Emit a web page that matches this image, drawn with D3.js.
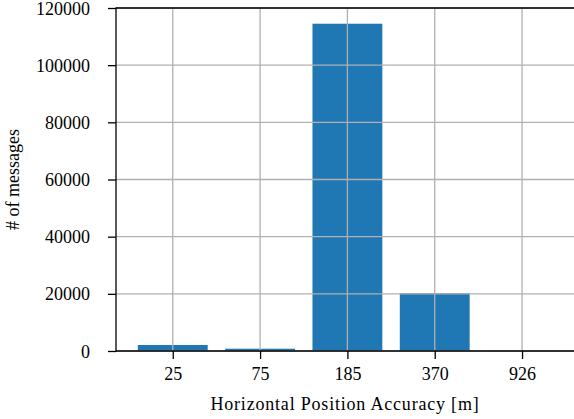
<!DOCTYPE html>
<html>
<head>
<meta charset="utf-8">
<script src="https://cdn.jsdelivr.net/npm/d3@7"></script>
<style>
  body { margin: 0; background: #fff; }
  svg text { font-family: 'Liberation Serif', serif; fill: #000; }
</style>
</head>
<body>
<div id="chart"></div>
<script>
// data
const categories = ["25", "75", "185", "370", "926"];
const counts = [2100, 800, 114500, 20200, 40];
const yTicks = [0, 20000, 40000, 60000, 80000, 100000, 120000];

const width = 574, height = 419;
const margin = { top: 8, right: 0, bottom: 68, left: 116 };
const fontSize = "18px";

const svg = d3.select("#chart")
    .append("svg")
    .attr("width", width)
    .attr("height", height);

// categorical positions like matplotlib: index -> pixel
const x = d3.scaleLinear()
    .domain([-0.65, 4.595])
    .range([margin.left, width - margin.right]);

const y = d3.scaleLinear()
    .domain([0, 120000])
    .range([height - margin.bottom, margin.top]);

const barW = x(0.4) - x(-0.4);

// bars
svg.selectAll(".bar")
    .data(counts)
    .enter()
    .append("rect")
    .attr("class", "bar")
    .attr("x", (d, i) => x(i) - barW / 2)
    .attr("y", d => y(d))
    .attr("width", barW)
    .attr("height", d => y(0) - y(d))
    .style("fill", "#1f77b4");

// grid on top of bars
const grid = svg.append("g");
grid.selectAll(".vgrid")
    .data(categories)
    .enter()
    .append("line")
    .attr("x1", (d, i) => x(i))
    .attr("x2", (d, i) => x(i))
    .attr("y1", y(0))
    .attr("y2", y(120000))
    .style("stroke", "#b0b0b0")
    .style("stroke-width", 1.3);
grid.selectAll(".hgrid")
    .data(yTicks)
    .enter()
    .append("line")
    .attr("x1", margin.left)
    .attr("x2", width)
    .attr("y1", d => y(d))
    .attr("y2", d => y(d))
    .style("stroke", "#b0b0b0")
    .style("stroke-width", 1.3);

// axes
const xAxis = svg.append("g")
    .attr("transform", `translate(0,${y(0)})`)
    .call(d3.axisBottom(x)
        .tickValues(d3.range(categories.length))
        .tickFormat(i => categories[i])
        .tickSize(8)
        .tickPadding(8));

const yAxis = svg.append("g")
    .attr("transform", `translate(${margin.left},0)`)
    .call(d3.axisLeft(y)
        .tickValues(yTicks)
        .tickFormat(d3.format("d"))
        .tickSize(8)
        .tickPadding(18));

[xAxis, yAxis].forEach(a => {
    a.attr("font-family", null).attr("font-size", null);
    a.select(".domain").remove();
    a.selectAll("line").style("stroke", "#000").style("stroke-width", 1.3);
    a.selectAll("text").style("font-size", fontSize);
});
yAxis.selectAll("text").attr("dy", "0.34em");

// spines: left, bottom, top
svg.append("line")
    .attr("x1", margin.left).attr("x2", margin.left)
    .attr("y1", y(0) + 0.6).attr("y2", y(120000) - 0.6)
    .style("stroke", "#000").style("stroke-width", 1.3);
svg.append("line")
    .attr("x1", margin.left).attr("x2", width)
    .attr("y1", y(0)).attr("y2", y(0))
    .style("stroke", "#000").style("stroke-width", 1.3);
svg.append("line")
    .attr("x1", margin.left).attr("x2", width)
    .attr("y1", y(120000)).attr("y2", y(120000))
    .style("stroke", "#000").style("stroke-width", 1.3);

// axis titles
svg.append("text")
    .attr("x", (margin.left + width) / 2)
    .attr("y", 410)
    .attr("text-anchor", "middle")
    .style("font-size", fontSize)
    .style("letter-spacing", "0.8px")
    .text("Horizontal Position Accuracy [m]");

svg.append("text")
    .attr("transform", `translate(19,${(y(0) + y(120000)) / 2}) rotate(-90)`)
    .attr("text-anchor", "middle")
    .style("font-size", fontSize)
    .text("# of messages");
</script>
</body>
</html>
